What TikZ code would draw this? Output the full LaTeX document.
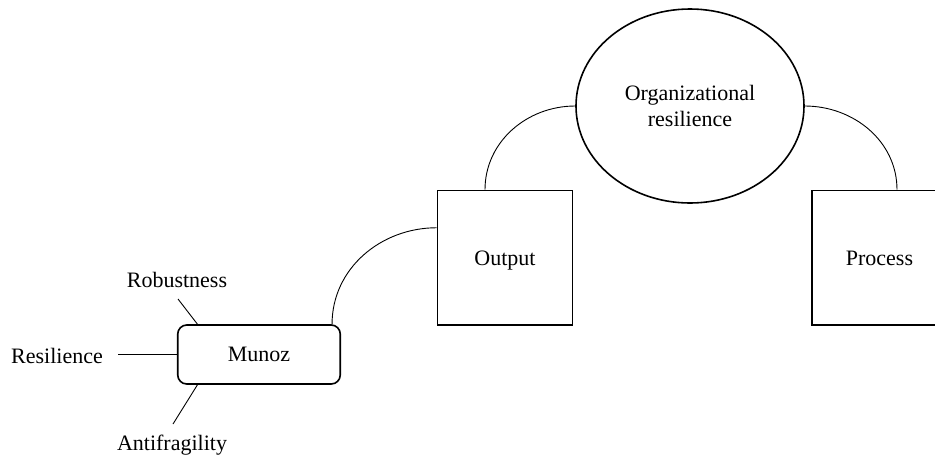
\documentclass[tikz,border=0pt]{standalone}
\usepackage{fontspec}
\setmainfont{Liberation Serif}
\usetikzlibrary{shapes.geometric}

\tikzset{
  txt/.style={font=\fontsize{22}{26}\selectfont, inner sep=0pt},
  box/.style={txt, draw, line width=1.6pt, minimum width=135pt, minimum height=134.5pt,
    text height=14.6pt, text depth=0pt},
  roundbox/.style={txt, draw, line width=1.6pt, rounded corners=9pt,
    minimum width=162.5pt, minimum height=59pt, text height=14.6pt, text depth=0pt},
  oval/.style={txt, draw, ellipse, line width=1.6pt, minimum width=228pt, minimum height=194pt,
    align=center},
  link/.style={line width=0.9pt},
  label/.style={txt, anchor=base}
}

\begin{document}
\begin{tikzpicture}[x=1pt, y=-1pt]
  \useasboundingbox (0,0) rectangle (935,459);
  \clip (0,0) rectangle (935,459);

  % main concepts
  \node[oval]     (org)     at (690,106)   {Organizational\\resilience};
  \node[box]      (output)  at (505,257.75) {Output};
  \node[box]      (process) at (879.5,257.75) {Process};
  \node[roundbox] (munoz)   at (259,354.5) {Munoz};

  % surrounding terms
  \node[label] (robust) at (177,287)   {Robustness};
  \node[label] (resil)  at (57,363)    {Resilience};
  \node[label] (anti)   at (172,450.7) {Antifragility};

  % free ends of the short spokes
  \coordinate (robustEnd) at (178,299);
  \coordinate (resilEnd)  at (118,354.5);
  \coordinate (antiEnd)   at (173,424);

  % spokes into the Munoz box
  \draw[link] (robustEnd) -- ([xshift=20.5pt]munoz.north west);
  \draw[link] (resilEnd)  -- (munoz.west);
  \draw[link] (antiEnd)   -- ([xshift=20.5pt]munoz.south west);

  % arcs between the concepts
  \draw[link] ([xshift=-9pt]munoz.north east) to[out=90, in=180] ([yshift=30pt]output.west);
  \draw[link] ([xshift=-20pt]output.north) to[out=90, in=180] (org.west);
  \draw[link] (org.east) to[out=0, in=90] ([xshift=17.5pt]process.north);
\end{tikzpicture}
\end{document}
